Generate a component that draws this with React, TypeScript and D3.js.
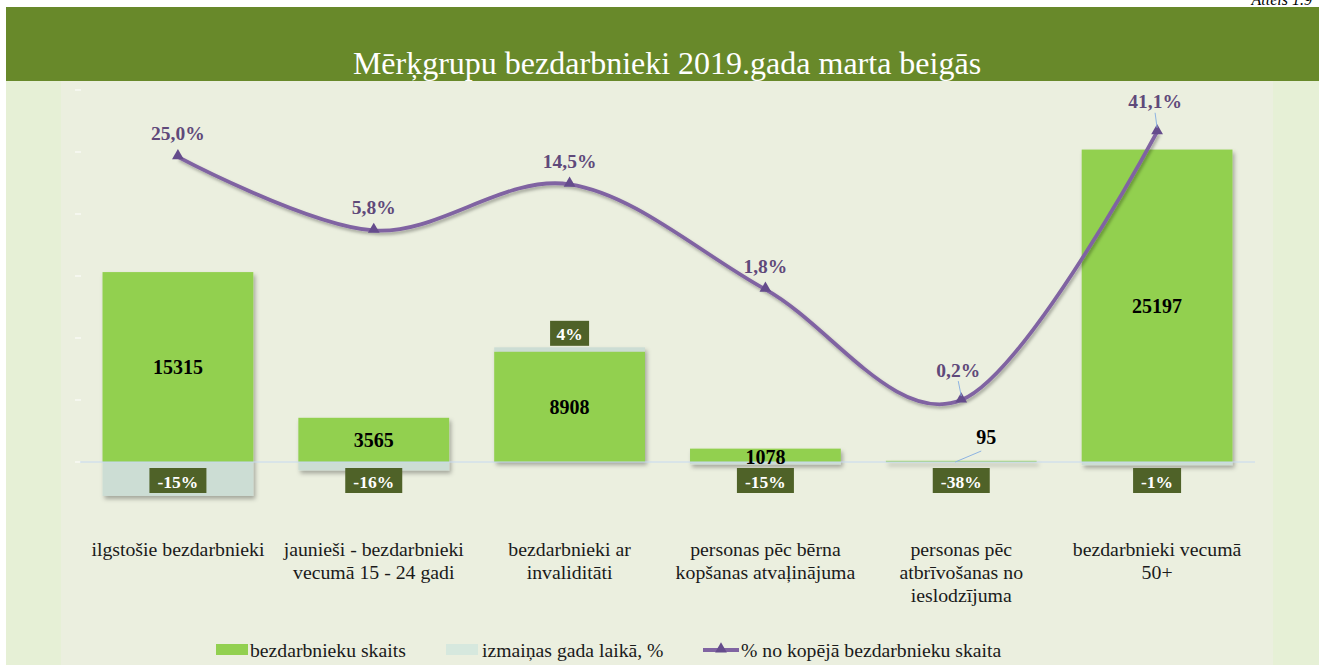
import React from "react";
import * as d3 from "d3";

const categoryLines: string[][] = [
  ["ilgstošie bezdarbnieki"],
  ["jaunieši - bezdarbnieki", "vecumā 15 - 24 gadi"],
  ["bezdarbnieki ar", "invaliditāti"],
  ["personas pēc bērna", "kopšanas atvaļinājuma"],
  ["personas pēc", "atbrīvošanas no", "ieslodzījuma"],
  ["bezdarbnieki vecumā", "50+"],
];
const categories = categoryLines.map((l) => l.join(" "));
const unemployedCount = [15315, 3565, 8908, 1078, 95, 25197];
const yearChange = [-2740, -680, 340, -190, -60, -250];
const yearChangeLabels = ["-15%", "-16%", "4%", "-15%", "-38%", "-1%"];
const shareOfTotal = [25.0, 5.8, 14.5, 1.8, 0.2, 41.1];
const countTicks = [0, 5000, 10000, 15000, 20000, 25000, 30000];
const legendLabels = [
  "bezdarbnieku skaits",
  "izmaiņas gada laikā, %",
  "% no kopējā bezdarbnieku skaita",
];

const W = 1319;
const H = 665;
const C = {
  title: "#68892A",
  outer: "#E6F0D6",
  inner: "#EBEFDF",
  bar: "#92D050",
  change: "#CCDDD4",
  changeLegend: "#D6E8DE",
  box: "#4F6228",
  line: "#8064A2",
  marker: "#654C8C",
  lineLabel: "#5F497A",
  leader: "#8DB3E2",
  zero: "#C6D9F1",
};
const serif = "'Liberation Serif', 'Times New Roman', serif";

export default function App() {
  const x = d3
    .scaleBand<string>()
    .domain(categories)
    .range([80, 1255])
    .paddingInner(0.23)
    .paddingOuter(0.115);
  const y = d3.scaleLinear().domain([0, 30000]).range([462, 90]);
  const y2 = d3.scaleLog().domain([0.1, 100]).range([435, 87]);
  const bw = x.bandwidth();
  const cx = (i: number) => (x(categories[i]) as number) + bw / 2;

  const pts: [number, number][] = shareOfTotal.map((v, i) => [cx(i), y2(v)]);
  const linePath = d3.line().curve(d3.curveCardinal.tension(0))(pts) || "";
  const tri = d3.symbol(d3.symbolTriangle, 60)() || "";

  const fmtShare = (v: number) => v.toFixed(1).replace(".", ",") + "%";

  return (
    <svg
      width={W}
      height={H}
      style={{ position: "absolute", left: 0, top: 0, background: "#fff" }}
      fontFamily={serif}
    >
      <defs>
        <filter id="barShadow" x="-10%" y="-10%" width="130%" height="130%">
          <feDropShadow dx="2" dy="3" stdDeviation="2" floodColor="#000" floodOpacity="0.3" />
        </filter>
        <filter id="lineShadow" x="-10%" y="-10%" width="130%" height="130%">
          <feDropShadow dx="1.5" dy="2.5" stdDeviation="1.5" floodColor="#000" floodOpacity="0.3" />
        </filter>
      </defs>
      <rect x={0} y={0} width={W} height={H} fill="#fff" />
      <text x={1312} y={5} textAnchor="end" fontSize={16} fontStyle="italic" fill="#000">
        Attēls 1.9
      </text>
      <rect x={6} y={81} width={W - 6} height={H - 81} fill={C.outer} />
      <rect x={61} y={81} width={1212} height={H - 81} fill={C.inner} />
      <rect x={6} y={7} width={W - 6} height={74} fill={C.title} />
      <text x={667} y={74} textAnchor="middle" fontSize={32} fill="#fff">
        Mērķgrupu bezdarbnieki 2019.gada marta beigās
      </text>

      {countTicks.map((t) => (
        <line key={t} x1={75} x2={81} y1={y(t)} y2={y(t)} stroke="#fff" strokeWidth={1} />
      ))}

      <g filter="url(#barShadow)">
        {categories.map((c, i) => (
          <rect
            key={"b" + c}
            x={x(c)}
            y={y(unemployedCount[i])}
            width={bw}
            height={y(0) - y(unemployedCount[i])}
            fill={C.bar}
          />
        ))}
        {categories.map((c, i) => {
          const v = yearChange[i];
          const base = v >= 0 ? unemployedCount[i] : 0;
          const y0 = y(base);
          const y1 = y(base + v);
          return (
            <rect
              key={"c" + c}
              x={x(c)}
              y={Math.min(y0, y1)}
              width={bw}
              height={Math.abs(y1 - y0)}
              fill={C.change}
            />
          );
        })}
      </g>

      <line x1={80} x2={1255} y1={y(0)} y2={y(0)} stroke={C.zero} strokeWidth={1} />

      {categories.map((c, i) => {
        const v = unemployedCount[i];
        const h = y(0) - y(v);
        if (h < 5) {
          return (
            <g key={"cl" + c}>
              <line x1={cx(i) - 6} y1={y(0)} x2={cx(i) + 20} y2={y(0) - 11} stroke={C.leader} strokeWidth={1} />
              <text x={cx(i) + 25} y={y(0) - 25} textAnchor="middle" dominantBaseline="central" fontSize={20} fontWeight="bold" fill="#000">
                {v}
              </text>
            </g>
          );
        }
        const ty = h < 20 ? y(0) - 5 : (y(v) + y(0)) / 2;
        return (
          <text key={"cl" + c} x={cx(i)} y={ty} textAnchor="middle" dominantBaseline="central" fontSize={20} fontWeight="bold" fill="#000">
            {v}
          </text>
        );
      })}

      {categories.map((c, i) => {
        const v = yearChange[i];
        const lbl = yearChangeLabels[i];
        const bwBox = lbl.replace("%", "").length * 9 + 30;
        const cy = v >= 0 ? y(unemployedCount[i] + v) - 14 : y(0) + 18.5;
        return (
          <g key={"ch" + c}>
            <rect x={cx(i) - bwBox / 2} y={cy - 12.5} width={bwBox} height={25} fill={C.box} />
            <text x={cx(i)} y={cy + 1} textAnchor="middle" dominantBaseline="central" fontSize={17.5} fontWeight="bold" fill="#fff">
              {lbl}
            </text>
          </g>
        );
      })}

      <path d={linePath} fill="none" stroke={C.line} strokeWidth={3.8} filter="url(#lineShadow)" />
      {pts.map(([px, py], i) => (
        <path key={"m" + i} d={tri} transform={`translate(${px},${py - 1})`} fill={C.marker} />
      ))}
      {pts.map(([px, py], i) => {
        const far = i === 4 || i === 5;
        const ly = far ? py - 30 : py - 23;
        const lx = i === 4 ? px - 3 : i === 5 ? px - 2 : px;
        return (
          <g key={"ll" + i}>
            {far && <line x1={lx} y1={ly + 11} x2={px} y2={py - 4} stroke={C.leader} strokeWidth={1} />}
            <text x={lx} y={ly} textAnchor="middle" dominantBaseline="central" fontSize={19.5} fontWeight="bold" fill={C.lineLabel}>
              {fmtShare(shareOfTotal[i])}
            </text>
          </g>
        );
      })}

      {categoryLines.map((lines, i) => (
        <text key={"x" + i} x={cx(i)} y={556} textAnchor="middle" fontSize={19.8} fill="#1a1a1a">
          {lines.map((l, j) => (
            <tspan key={j} x={cx(i)} dy={j === 0 ? 0 : 23}>
              {l}
            </tspan>
          ))}
        </text>
      ))}

      <g fontSize={19.7} fill="#1a1a1a">
        <rect x={216} y={644} width={32} height={11} fill={C.bar} />
        <text x={250} y={657}>{legendLabels[0]}</text>
        <rect x={446} y={644} width={32} height={11} fill={C.changeLegend} />
        <text x={482} y={657}>{legendLabels[1]}</text>
        <line x1={703} x2={739} y1={650} y2={650} stroke={C.line} strokeWidth={3.8} />
        <path d={tri} transform="translate(721,649)" fill={C.marker} />
        <text x={741} y={657}>{legendLabels[2]}</text>
      </g>
    </svg>
  );
}
